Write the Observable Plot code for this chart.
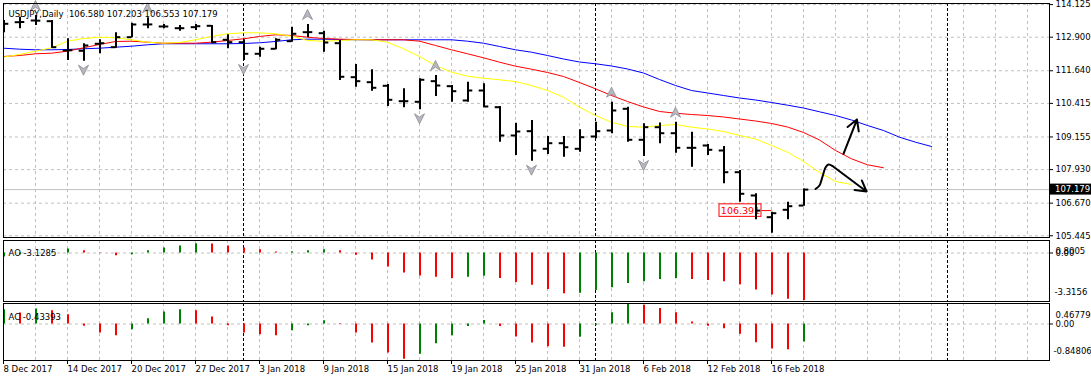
<!DOCTYPE html>
<html><head><meta charset="utf-8">
<script src="https://cdn.jsdelivr.net/npm/d3@7"></script>
<script src="https://cdn.jsdelivr.net/npm/@observablehq/plot@0.6"></script>
<style>
html,body{margin:0;padding:0;background:#fff;}
#chart{position:relative;width:1091px;height:381px;overflow:hidden;background:#fff;}
#chart > svg{position:absolute;left:0;}
#chart svg, #chart svg text{font-family:"DejaVu Sans" !important;}
</style></head><body><div id="chart"></div>
<script>
// ---- categories: one bar per trading day ----
const dates = ["8 Dec 2017","11 Dec 2017","12 Dec 2017","13 Dec 2017","14 Dec 2017","15 Dec 2017","18 Dec 2017","19 Dec 2017","20 Dec 2017","21 Dec 2017","22 Dec 2017","26 Dec 2017","27 Dec 2017","28 Dec 2017","29 Dec 2017","2 Jan 2018","3 Jan 2018","4 Jan 2018","5 Jan 2018","8 Jan 2018","9 Jan 2018","10 Jan 2018","11 Jan 2018","12 Jan 2018","15 Jan 2018","16 Jan 2018","17 Jan 2018","18 Jan 2018","19 Jan 2018","22 Jan 2018","23 Jan 2018","24 Jan 2018","25 Jan 2018","26 Jan 2018","29 Jan 2018","30 Jan 2018","31 Jan 2018","1 Feb 2018","2 Feb 2018","5 Feb 2018","6 Feb 2018","7 Feb 2018","8 Feb 2018","9 Feb 2018","12 Feb 2018","13 Feb 2018","14 Feb 2018","15 Feb 2018","16 Feb 2018","19 Feb 2018","20 Feb 2018"];

// ---- OHLC ----
const open  = [113.264,113.463,113.527,113.501,112.401,112.39,112.653,112.525,112.9,113.377,113.302,113.238,113.276,113.328,112.803,112.713,112.277,112.465,112.75,113.088,113.05,112.675,111.399,111.211,111.076,110.498,110.475,111.249,111.061,110.524,110.899,110.272,109.21,109.372,108.711,108.921,108.711,109.173,109.398,110.212,109.049,109.522,109.296,108.748,108.835,108.647,107.832,106.958,106.143,106.421,106.580];
const high  = [113.527,113.651,113.715,113.527,112.84,112.653,112.803,113.065,113.426,113.629,113.377,113.339,113.377,113.339,112.99,112.803,112.525,112.84,113.276,113.377,113.126,112.776,111.875,111.676,111.125,110.963,111.339,111.462,111.087,111.211,111.151,110.299,109.672,109.773,109.173,109.173,109.424,109.709,110.46,110.272,109.649,109.68,109.709,109.334,108.872,108.797,107.896,107.022,106.331,106.706,107.203];
const low   = [113.065,113.216,113.339,112.487,112.026,111.999,112.277,112.487,112.878,113.216,113.216,113.126,113.152,112.653,112.465,112.026,112.149,112.427,112.713,112.878,112.337,111.275,111.023,110.873,110.299,110.25,110.175,110.674,110.46,110.46,110.272,108.959,108.459,108.245,108.497,108.396,108.583,109.086,109.274,108.959,108.422,108.899,108.546,108.02,108.459,107.397,106.706,106.046,105.542,106.046,106.553];
const close = [113.403,113.47,113.52,112.525,112.41,112.589,112.675,112.9,113.377,113.38,113.302,113.238,113.313,112.713,112.713,112.277,112.465,112.803,113.028,113.09,112.701,111.414,111.249,111.001,110.55,110.498,111.301,111.087,110.873,110.899,110.299,109.21,109.36,108.647,108.921,108.771,109.146,109.372,110.149,109.049,109.522,109.296,108.748,108.748,108.673,107.832,107.022,106.391,106.293,106.556,107.179];

// ---- Alligator (already shifted forward: lips +3, teeth +5, jaw +8) ----
const lips  = [112.15,112.251,112.375,112.502,112.75,112.851,112.9,112.878,112.803,112.713,112.675,112.701,112.803,112.927,113.028,113.065,113.065,113.028,112.938,112.776,112.75,112.776,112.803,112.803,112.713,112.465,112.176,111.838,111.586,111.436,111.361,111.301,111.237,111.087,110.899,110.648,110.272,109.961,109.709,109.548,109.522,109.585,109.623,109.522,109.454,109.36,109.21,109.079,108.835,108.583,108.234,107.821,107.483,107.371];
const teeth = [112.176,112.213,112.277,112.3,112.375,112.502,112.626,112.739,112.75,112.713,112.675,112.675,112.675,112.713,112.776,112.84,112.927,112.99,112.964,112.9,112.851,112.825,112.814,112.803,112.803,112.803,112.75,112.589,112.427,112.277,112.127,111.962,111.812,111.699,111.575,111.425,111.2,110.963,110.712,110.486,110.28,110.111,110.047,109.998,109.961,109.905,109.83,109.754,109.661,109.529,109.323,109.041,108.647,108.335,108.11,107.998];
const jaw   = [112.487,112.45,112.427,112.427,112.439,112.465,112.487,112.525,112.562,112.615,112.653,112.653,112.653,112.653,112.653,112.664,112.69,112.739,112.803,112.825,112.825,112.814,112.803,112.803,112.803,112.803,112.803,112.803,112.803,112.75,112.675,112.551,112.427,112.337,112.213,112.082,111.969,111.902,111.819,111.707,111.556,111.312,111.087,110.899,110.806,110.712,110.618,110.543,110.449,110.348,110.242,110.1,109.961,109.792,109.585,109.398,109.146,108.959,108.797];

// ---- Oscillators ----
const ao = [-0.26,-0.12,0.02,0.08,0.26,0.15,-0.02,-0.18,-0.11,0.15,0.33,0.46,0.61,0.60,0.46,0.33,0.22,0.07,0.09,0.15,0.22,0.15,-0.15,-0.46,-0.92,-1.32,-1.52,-1.60,-1.68,-1.60,-1.54,-1.68,-1.95,-2.13,-2.41,-2.69,-2.66,-2.48,-2.30,-2.02,-1.89,-1.75,-1.68,-1.75,-1.82,-1.89,-2.09,-2.44,-2.78,-3.06,-3.1285];
const ac = [0.345,0.265,0.36,0.32,0.225,-0.055,-0.217,-0.282,-0.137,0.128,0.289,0.345,0.32,0.169,-0.04,-0.217,-0.258,-0.282,-0.161,-0.041,0.08,0.012,-0.217,-0.458,-0.70,-0.84806,-0.728,-0.477,-0.284,-0.058,0.084,-0.058,-0.311,-0.46,-0.55,-0.56,-0.32,-0.033,0.27,0.46779,0.45,0.376,0.27,0.049,-0.057,-0.115,-0.245,-0.45,-0.60,-0.62,-0.43393];

// ---- fractals (bar indices) ----
const fractalUp = [2,9,19,27,38,42];
const fractalDown = [5,15,26,33,40,48];

// ---- tick labels ----
const priceTicks = [114.125,112.900,111.640,110.415,109.155,107.930,106.670,105.445];
const aoScaleLabels = [0.8005, -3.3156];
const acScaleLabels = [0.46779, -0.84806];
const separators = [15, 37, 59]; // month starts: 2 Jan, 1 Feb, 1 Mar

// ---- hand-drawn annotations (bar index, price) ----
const annoCurve = [[50.75,107.202],[51.0,107.333],[51.19,107.671],[51.375,108.009],[51.5625,108.121],[51.81,108.065]];
const annoArrows = [{x1:51.81,y1:108.065,x2:53.94,y2:107.108},{x1:52.5,y1:108.516,x2:53.34,y2:109.81}];
const priceLabel = {x1:44.75, x2:47.375, lineTo:48, value:106.391};

// ---------------------------------------------------------------
const fmt3 = d3.format(".3f");
const xDomain = [0, 65.375];
const W = 1091, ML = 3, MR = 42;
const FONT = "DejaVu Sans";
const baseStyle = {fontFamily: FONT, fontSize: "8.5px", color: "#000", background: "transparent", overflow: "visible"};
const gridOpt = {stroke: "#c0c0c0", strokeOpacity: 1, strokeDasharray: "3,3", strokeWidth: 1};
const sepOpt = {stroke: "#000", strokeOpacity: 1, strokeDasharray: "3,2", strokeWidth: 1};
const gridIdx = d3.range(2, xDomain[1], 2);
const GREEN = "#008000", RED = "#ff0000";

const bars = dates.map((d, i) => ({i, d, o: open[i], h: high[i], l: low[i], c: close[i]}));
const series = arr => arr.map((v, i) => ({i, v}));
const osc = arr => arr.map((v, i) => ({i, v, col: (i === 0 || v > arr[i - 1]) ? GREEN : RED}));

const upSym = {draw(ctx, size) { const r = Math.sqrt(size / Math.PI);
  ctx.moveTo(0, -r); ctx.lineTo(r, r); ctx.lineTo(0, r * 0.35); ctx.lineTo(-r, r); ctx.closePath(); }};
const downSym = {draw(ctx, size) { const r = Math.sqrt(size / Math.PI);
  ctx.moveTo(0, r); ctx.lineTo(r, -r); ctx.lineTo(0, -r * 0.35); ctx.lineTo(-r, -r); ctx.closePath(); }};

const title = `USDJPY,Daily  ${fmt3(open[50])} ${fmt3(high[50])} ${fmt3(low[50])} ${fmt3(close[50])}`;

const main = Plot.plot({
  width: W, height: 239, marginTop: 3, marginBottom: 2, marginLeft: ML, marginRight: MR,
  x: {domain: xDomain, axis: null},
  y: {domain: [105.381, 114.165]},
  style: baseStyle,
  marks: [
    Plot.gridX(gridIdx, gridOpt),
    Plot.gridY(priceTicks, gridOpt),
    Plot.ruleX(separators, sepOpt),
    Plot.ruleY([close[50]], {stroke: "#c0c0c0", strokeWidth: 1}),
    Plot.line(series(jaw), {x: "i", y: "v", stroke: "#0000ff", strokeWidth: 1, clip: true}),
    Plot.line(series(teeth), {x: "i", y: "v", stroke: "#ff0000", strokeWidth: 1, clip: true}),
    Plot.line(series(lips), {x: "i", y: "v", stroke: "#ffff00", strokeWidth: 1, clip: true}),
    Plot.rect([priceLabel], {x1: "x1", x2: "x2", y1: d => d.value - 0.235, y2: d => d.value + 0.235, fill: "#fff", stroke: "#ff0000", strokeWidth: 1}),
    Plot.link([priceLabel], {x1: "x2", x2: "lineTo", y1: "value", y2: "value", stroke: "#ff0000", strokeWidth: 1}),
    Plot.text([priceLabel], {x: d => (d.x1 + d.x2) / 2, y: "value", text: d => fmt3(d.value), fill: "#ff0000", fontSize: 9.5}),
    Plot.ruleX(bars, {x: "i", y1: "l", y2: "h", stroke: "#000", strokeWidth: 2, dx: 0.5, clip: true}),
    Plot.ruleY(bars, {y: "o", x1: d => d.i - 0.3, x2: d => d.i, stroke: "#000", strokeWidth: 2, dx: 0.5, clip: true}),
    Plot.ruleY(bars, {y: "c", x1: d => d.i, x2: d => d.i + 0.3, stroke: "#000", strokeWidth: 2, dx: 0.5, clip: true}),
    Plot.dot(fractalUp, {x: i => i, y: i => high[i], dy: -10, r: 5, symbol: upSym, fill: "#b8b8c0", stroke: "#8a8a94", strokeWidth: 0.8}),
    Plot.dot(fractalDown, {x: i => i, y: i => low[i], dy: 9, r: 5, symbol: downSym, fill: "#b8b8c0", stroke: "#8a8a94", strokeWidth: 0.8, clip: true}),
    Plot.line(annoCurve, {x: d => d[0], y: d => d[1], curve: "catmull-rom", stroke: "#000", strokeWidth: 2}),
    Plot.arrow(annoArrows, {x1: "x1", y1: "y1", x2: "x2", y2: "y2", stroke: "#000", strokeWidth: 2, headLength: 9}),
    Plot.text([title], {frameAnchor: "top-left", dx: 5, dy: 7.5, textAnchor: "start", fill: "#000"}),
    Plot.frame({stroke: "#000", strokeWidth: 1}),
    Plot.axisY({anchor: "right", ticks: priceTicks, tickFormat: fmt3, tickSize: 3, tickPadding: 3, label: null})
  ]
});

const aoPlot = Plot.plot({
  width: W, height: 64, marginTop: 1, marginBottom: 2, marginLeft: ML, marginRight: MR,
  x: {domain: xDomain, axis: null},
  y: {domain: [-3.201, 0.825]},
  style: baseStyle,
  marks: [
    Plot.gridX(gridIdx, gridOpt),
    Plot.gridY([0], gridOpt),
    Plot.ruleX(separators, sepOpt),
    Plot.ruleX(osc(ao), {x: "i", y1: 0, y2: "v", stroke: "col", strokeWidth: 2, dx: 0.5}),
    Plot.text([`AO ${ao[50]}`], {frameAnchor: "top-left", dx: 5, dy: 9.5, textAnchor: "start", fill: "#000"}),
    Plot.frame({stroke: "#000", strokeWidth: 1}),
    Plot.axisY({anchor: "right", ticks: [0], tickFormat: d => d.toFixed(2), tickSize: 3, tickPadding: 3, label: null}),
    Plot.text([aoScaleLabels[0]], {frameAnchor: "top-right", dx: 6, dy: 7, textAnchor: "start", text: d => String(d), fill: "#000"}),
    Plot.text([aoScaleLabels[1]], {frameAnchor: "bottom-right", dx: 5, dy: -6.5, textAnchor: "start", text: d => String(d), fill: "#000"})
  ]
});

const acPlot = Plot.plot({
  width: W, height: 79, marginTop: 1, marginBottom: 21, marginLeft: ML, marginRight: MR,
  x: {domain: xDomain},
  y: {domain: [-0.88, 0.494]},
  style: baseStyle,
  marks: [
    Plot.gridX(gridIdx, gridOpt),
    Plot.gridY([0], gridOpt),
    Plot.ruleX(separators, sepOpt),
    Plot.ruleX(osc(ac), {x: "i", y1: 0, y2: "v", stroke: "col", strokeWidth: 2, dx: 0.5}),
    Plot.text([`AC ${ac[50]}`], {frameAnchor: "top-left", dx: 5, dy: 10, textAnchor: "start", fill: "#000"}),
    Plot.frame({stroke: "#000", strokeWidth: 1}),
    Plot.axisY({anchor: "right", ticks: [0], tickFormat: d => d.toFixed(2), tickSize: 3, tickPadding: 3, label: null}),
    Plot.text([acScaleLabels[0]], {frameAnchor: "top-right", dx: 6, dy: 8, textAnchor: "start", text: d => String(d), fill: "#000"}),
    Plot.text([acScaleLabels[1]], {frameAnchor: "bottom-right", dx: 4, dy: -7, textAnchor: "start", text: d => String(d), fill: "#000"}),
    Plot.axisX({anchor: "bottom", ticks: d3.range(0, dates.length, 4), tickFormat: i => dates[i], tickSize: 4, tickPadding: 1, textAnchor: "start", label: null})
  ]
});

const chart = document.getElementById("chart");
main.style.top = "0px"; aoPlot.style.top = "239px"; acPlot.style.top = "302px";
chart.append(main, aoPlot, acPlot);

// current bid label on the price axis (positioned by the plot's own y scale)
const yb = main.scale("y").apply(close[50]);
const g = d3.select(main).append("g");
g.append("rect").attr("x", 1050).attr("y", yb - 5.5).attr("width", 41).attr("height", 11).attr("fill", "#000");
g.append("text").attr("x", 1055).attr("y", yb).attr("dy", "0.32em").attr("text-anchor", "start").attr("fill", "#fff").text(fmt3(close[50]));
</script></body></html>
